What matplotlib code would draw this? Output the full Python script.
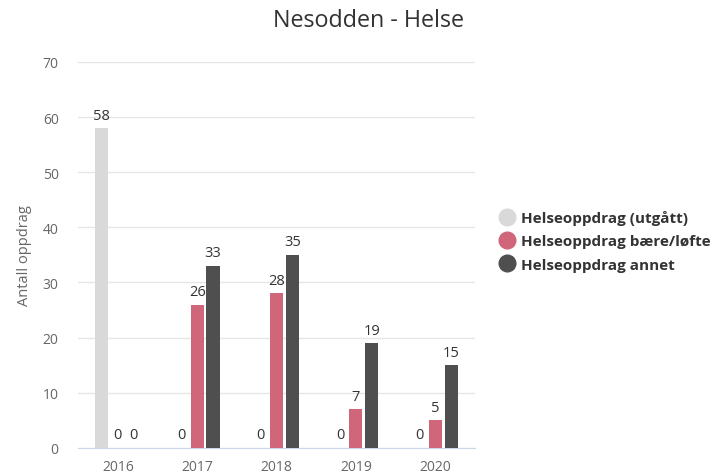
import matplotlib.pyplot as plt
import numpy as np
from matplotlib.lines import Line2D

plt.rcParams['font.family'] = ['Open Sans', 'DejaVu Sans']

years = ["2016", "2017", "2018", "2019", "2020"]
utgatt = [58, 0, 0, 0, 0]
baere = [0, 26, 28, 7, 5]
annet = [0, 33, 35, 19, 15]

series = [
    ("Helseoppdrag (utgått)", utgatt, "#d9d9d9"),
    ("Helseoppdrag bære/løfte", baere, "#cf6679"),
    ("Helseoppdrag annet", annet, "#4f4f4f"),
]

fig = plt.figure(figsize=(7.23, 4.77), dpi=100)
ax = fig.add_axes([0.108, 0.059, 0.549, 0.809])

x = np.arange(len(years))
bw = 0.165
offsets = [-0.2, 0.0, 0.2]
for (name, vals, col), off in zip(series, offsets):
    bars = ax.bar(x + off, vals, bw, color=col, zorder=3)
    for b, v in zip(bars, vals):
        ax.text(b.get_x() + b.get_width() / 2, v + 1.0, str(v),
                ha="center", va="bottom", fontsize=10.5, color="#333333")

ax.set_xlim(-0.5, len(years) - 0.5)
ax.set_ylim(0, 70)
ax.set_yticks(range(0, 71, 10))
ax.set_xticks(x)
ax.set_xticklabels(years)
ax.grid(axis="y", color="#e6e6e6", linewidth=1, zorder=0)
for s in ["top", "right", "left"]:
    ax.spines[s].set_visible(False)
ax.spines["bottom"].set_color("#ccd6eb")
ax.tick_params(axis="both", length=0, labelcolor="#666666", labelsize=10)
ax.tick_params(axis="y", pad=14)
ax.tick_params(axis="x", pad=8)
ax.set_ylabel("Antall oppdrag", color="#666666", fontsize=10.5, labelpad=8)

fig.text(0.509, 0.956, "Nesodden - Helse", ha="center", va="center",
         fontsize=16.8, color="#333333")

handles = [Line2D([0], [0], marker="o", linestyle="", markersize=12,
                  markerfacecolor=c, markeredgecolor=c) for _, _, c in series]
leg = fig.legend(handles, [n for n, _, _ in series], loc="center left",
                 bbox_to_anchor=(0.67, 0.493), frameon=False,
                 handletextpad=0.3, labelspacing=0.6, handlelength=1.2,
                 prop={"size": 11, "weight": "bold"})
for t in leg.get_texts():
    t.set_color("#333333")

fig.savefig("out.png", dpi=100)
